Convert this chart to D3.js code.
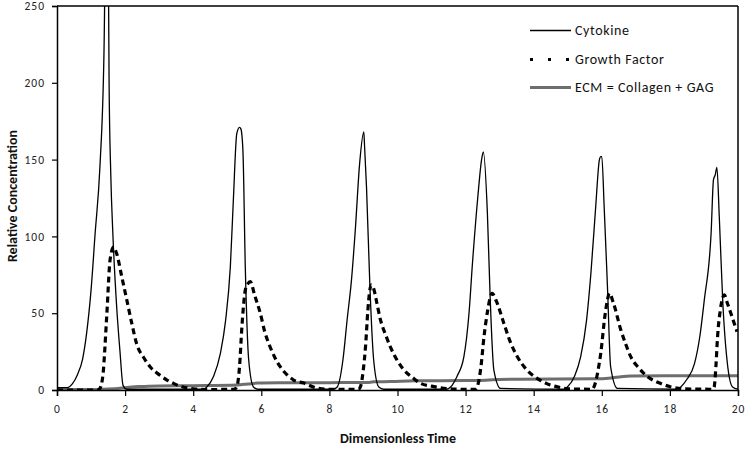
<!DOCTYPE html>
<html><head><meta charset="utf-8">
<script src="https://cdnjs.cloudflare.com/ajax/libs/d3/7.8.5/d3.min.js"></script>
<style>
body{margin:0;background:#fff;}
svg{display:block;font-family:Carlito,Lato,"Open Sans",sans-serif;}
</style></head><body>
<svg id="chart" width="746" height="451"></svg>
<script>
const seriesNames = ["Cytokine", "Growth Factor", "ECM = Collagen + GAG"];
const xTicks = [0,2,4,6,8,10,12,14,16,18,20];
const yTicks = [0,50,100,150,200,250];

const cytokine = [
 [0,1.5],[0.3,1.5],[0.45,4],[0.6,10],[0.75,20],[0.87,37],[1.0,65],[1.12,102],[1.26,145],[1.38,220],[1.45,330],[1.5,300],[1.53,200],[1.58,140],[1.64,102],[1.75,55],[1.85,25],[1.94,3],[2.05,0.5],
 [4.3,0.5],[4.4,2],[4.6,9],[4.8,24],[4.95,45],[5.09,80],[5.18,124],[5.28,167],[5.36,171],[5.4,170],[5.46,156],[5.53,80],[5.63,19.5],[5.77,2],[5.9,0.5],
 [8.1,0.5],[8.23,2],[8.4,20],[8.52,45.6],[8.65,72],[8.76,104],[8.89,148],[9.01,168],[9.03,160],[9.09,132],[9.19,67],[9.3,19.5],[9.45,2],[9.6,0.5],
 [11.45,0.5],[11.56,2],[11.75,9],[11.95,21.7],[12.1,50],[12.2,82],[12.36,126],[12.47,150],[12.52,155],[12.64,115],[12.72,61],[12.83,13],[13.03,1],
 [14.9,0.5],[14.99,2],[15.2,9],[15.38,21.7],[15.55,45],[15.68,76],[15.82,119],[15.93,150],[15.97,152],[16.0,152],[16.07,119],[16.17,65],[16.26,15],[16.46,1],
 [18.2,0.5],[18.32,2],[18.5,7],[18.72,17],[18.88,35],[19.01,58.6],[19.21,102],[19.28,137],[19.33,140],[19.38,145],[19.45,113],[19.55,58.6],[19.7,15],[19.84,2],[20,0.5]
];
const growthFactor = [
 [0,0],[1.2,0],[1.26,1],[1.35,10],[1.46,48],[1.56,85],[1.66,93],[1.75,89],[1.9,74],[2.05,58.6],[2.2,43],[2.34,30],[2.55,21],[2.74,15],[3.0,10],[3.23,6.5],[3.45,4],[3.7,2],[4.0,0.8],[4.5,0.3],[5.2,0.5],
 [5.28,2],[5.36,15],[5.43,41],[5.53,65],[5.6,69],[5.68,70.5],[5.8,62],[5.97,50],[6.1,38],[6.26,28],[6.4,21],[6.56,15],[6.75,10],[6.95,6.5],[7.25,4.5],[7.6,1.5],[8.0,0.5],[8.85,0.5],
 [8.91,2],[9.0,14],[9.06,28],[9.13,52],[9.18,64],[9.23,68.4],[9.3,66],[9.4,56],[9.5,45.6],[9.65,36],[9.79,28],[10.0,19],[10.19,13],[10.45,8],[10.68,4.3],[11.0,2.5],[11.26,1.5],[11.8,0.5],[12.28,0.5],
 [12.34,2],[12.45,15],[12.54,34.7],[12.65,52],[12.72,60],[12.78,63],[12.9,58],[13.13,43],[13.3,32],[13.52,21.7],[13.8,13],[14.1,7.6],[14.4,4],[14.7,2],[15.0,0.8],[15.72,0.5],
 [15.77,2],[15.9,14],[15.97,24],[16.09,48],[16.16,58],[16.22,63],[16.35,56],[16.56,39],[16.7,30],[16.85,21.7],[17.1,14],[17.34,8.7],[17.7,4.5],[18.03,2],[18.4,0.8],[19.25,0.5],
 [19.3,2],[19.35,15],[19.4,34.7],[19.48,52],[19.55,60],[19.6,62],[19.68,57],[19.79,50],[19.88,44],[19.97,38]
];
const ecm = [
 [0,0.3],[1.2,0.4],[1.5,0.6],[1.8,1.0],[2.0,1.5],[2.4,2.2],[2.7,2.5],[4.0,2.8],[5.3,3.3],[5.6,3.9],[5.9,4.5],[6.5,4.7],[8.0,4.8],[9.1,4.9],[9.3,5.3],[9.8,5.5],[10.5,6.0],[12.0,6.2],[12.6,6.4],[13.0,6.8],[13.5,7.0],[15.8,7.3],[16.2,7.7],[16.5,8.5],[16.85,9.1],[20,9.3]
];

const svg = d3.select("#chart");
const L = 57, R = 738, T = 6, B = 390;
const x = d3.scaleLinear().domain([0,20]).range([L,R]);
const y = d3.scaleLinear().domain([0,250]).range([B,T]);

svg.append("defs").append("clipPath").attr("id","clip")
  .append("rect").attr("x",L).attr("y",T).attr("width",R-L).attr("height",B-T);

const line = d3.line().x(d=>x(d[0])).y(d=>y(d[1])).curve(d3.curveMonotoneX);
const g = svg.append("g").attr("clip-path","url(#clip)");

g.append("path").datum(ecm).attr("d",line)
  .attr("fill","none").attr("stroke","#6e6e6e").attr("stroke-width",3);
g.append("path").datum(growthFactor).attr("d",line)
  .attr("fill","none").attr("stroke","#000").attr("stroke-width",3.2).attr("stroke-dasharray","6,4");
g.append("path").datum(cytokine).attr("d",line)
  .attr("fill","none").attr("stroke","#000").attr("stroke-width",1.3);

// axes
const xAxis = d3.axisBottom(x).tickValues(xTicks).tickSize(6).tickPadding(9).tickFormat(d3.format("d"));
const yAxis = d3.axisLeft(y).tickValues(yTicks).tickSize(5).tickPadding(7).tickFormat(d3.format("d"));
const gx = svg.append("g").attr("transform",`translate(0,${B})`).call(xAxis);
const gy = svg.append("g").attr("transform",`translate(${L},0)`).call(yAxis);
[gx,gy].forEach(a=>{
  a.select(".domain").attr("stroke","#000").attr("stroke-width",1.5);
  a.selectAll(".tick line").attr("stroke","#000").attr("stroke-width",1.2);
  a.selectAll("text").attr("font-size",11.5).attr("fill","#222").attr("letter-spacing","1px")
    .attr("font-family","Carlito,Lato,sans-serif");
});

// top and right border
svg.append("line").attr("x1",L).attr("x2",R).attr("y1",T).attr("y2",T).attr("stroke","#000").attr("stroke-width",1.5);
svg.append("line").attr("x1",R).attr("x2",R).attr("y1",T).attr("y2",B).attr("stroke","#000").attr("stroke-width",1.5);

// titles
svg.append("text").attr("x",398).attr("y",443).attr("text-anchor","middle")
  .attr("font-size",14).attr("font-weight","bold").attr("fill","#111").text("Dimensionless Time");
svg.append("text").attr("transform","translate(17,196) rotate(-90)").attr("text-anchor","middle")
  .attr("font-size",14).attr("font-weight","bold").attr("fill","#111").text("Relative Concentration");

// legend
const legY = [30.5, 59.5, 87.5];
const styles = [
  {w:1.3, c:"#000", dash:null},
  {w:3, c:"#000", dash:"3,15"},
  {w:3, c:"#6e6e6e", dash:null}
];
const legSeries = [cytokine, growthFactor, ecm];
legSeries.forEach((s,i)=>{
  const gl = svg.append("g");
  gl.append("line").attr("x1",530).attr("x2",571).attr("y1",legY[i]).attr("y2",legY[i])
    .attr("stroke",styles[i].c).attr("stroke-width",styles[i].w)
    .attr("stroke-dasharray",styles[i].dash);
  gl.append("text").attr("x",575).attr("y",legY[i]).attr("dy","0.35em")
    .attr("font-size",14).attr("letter-spacing","0.6px").attr("fill","#111").text(seriesNames[i]);
});
</script>
</body></html>
